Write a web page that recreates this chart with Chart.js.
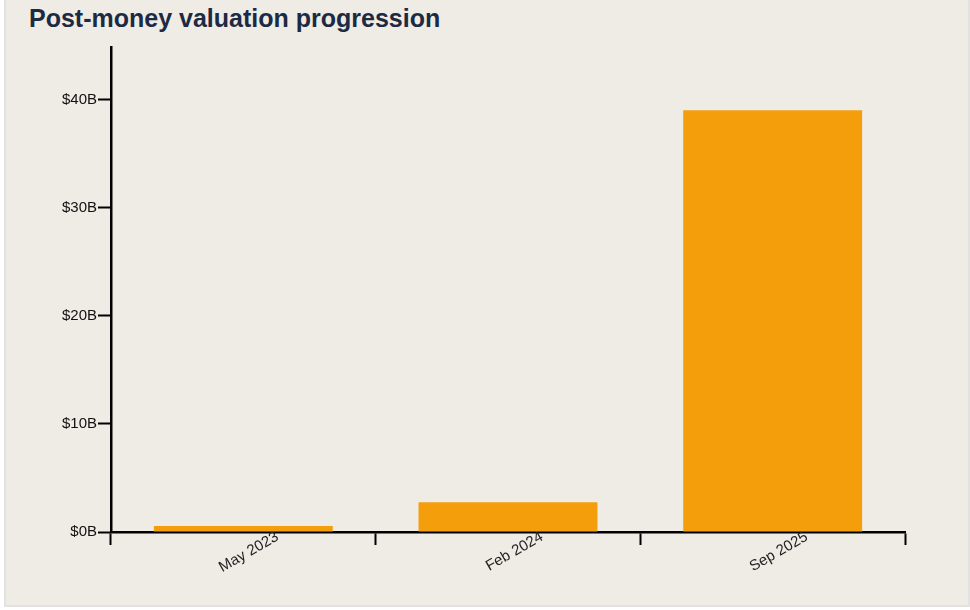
<!DOCTYPE html>
<html>
<head>
<meta charset="utf-8">
<script src="https://cdn.jsdelivr.net/npm/chart.js@4.4.1/dist/chart.umd.min.js"></script>
<style>
  html, body { margin: 0; padding: 0; background: #fff; }
  body { width: 970px; height: 610px; position: relative; overflow: hidden;
         font-family: "Liberation Sans", Arial, Helvetica, sans-serif; }
  #panel { position: absolute; left: 4px; top: -20px; width: 966px; height: 627px;
           background: #efece5; border: 2px solid #e2e2e2; box-sizing: border-box; }
  #title { position: absolute; left: 29px; top: 6px; margin: 0; font-size: 25px; line-height: 25px;
           font-weight: bold; color: #1c2a44; white-space: nowrap; }
  #chart { position: absolute; left: 0; top: 0; }
</style>
</head>
<body>
<div id="panel"></div>
<h2 id="title">Post-money valuation progression</h2>
<canvas id="chart" width="970" height="610"></canvas>
<script>
// funding rounds and post-money valuations (billions of USD)
const rounds = ["May 2023", "Feb 2024", "Sep 2025"];
const valuations = [0.55, 2.75, 39];
const yMax = 44.85;
const yStep = 10;

Chart.defaults.font.family = '"Liberation Sans", Arial, Helvetica, sans-serif';

const ctx = document.getElementById("chart");

const data = {
  labels: rounds,
  datasets: [
    {
      label: "Post-money valuation",
      data: valuations,
      backgroundColor: "#f59e0b",
      borderWidth: 0,
      categoryPercentage: 1,
      barPercentage: 0.676,
    },
  ],
};

const valuationChart = new Chart(ctx, {
  type: "bar",
  data: data,
  options: {
    responsive: false,
    animation: false,
    layout: {
      padding: { left: 51, top: 47, right: 65, bottom: 28 },
    },
    plugins: {
      legend: { display: false },
      tooltip: { enabled: false },
    },
    scales: {
      x: {
        grid: {
          drawOnChartArea: false,
          offset: true,
          tickLength: 13,
          tickWidth: 2,
          tickColor: "#000",
        },
        border: { color: "#000", width: 2.5 },
        ticks: {
          minRotation: 30,
          maxRotation: 30,
          padding: -17,
          labelOffset: 34,
          color: "#222",
          font: { size: 15 },
        },
        afterFit: (scale) => { scale.height = 50; },
      },
      y: {
        min: 0,
        max: yMax,
        grid: {
          drawOnChartArea: false,
          tickLength: 13,
          tickWidth: 2,
          tickColor: "#000",
        },
        border: { color: "#000", width: 2.5 },
        ticks: {
          stepSize: yStep,
          includeBounds: false,
          padding: 1,
          color: "#111",
          font: { size: 15 },
          callback: (v) => "$" + v + "B",
        },
        afterFit: (scale) => { scale.width = 60; },
      },
    },
  },
});
</script>
</body>
</html>
